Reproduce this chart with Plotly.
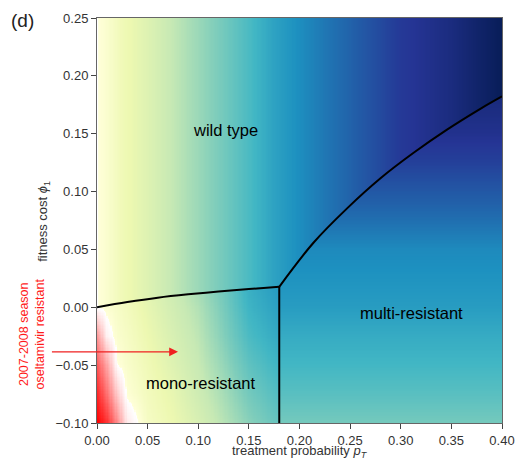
import numpy as np
import plotly.graph_objects as go

# ---- data ----
# colour value in the wild-type region (depends on treatment probability only)
wt_pT = [0, 0.01, 0.025, 0.05, 0.075, 0.1, 0.125, 0.15, 0.175, 0.2, 0.225, 0.25, 0.275, 0.3, 0.325, 0.35, 0.375, 0.4]
wt_z = [0.0, 0.04, 0.11, 0.18, 0.26, 0.33, 0.40, 0.48, 0.57, 0.635, 0.69, 0.74, 0.80, 0.86, 0.89, 0.92, 0.96, 1.0]

# colour value in the multi-resistant region (depends on fitness cost only)
mu_phi = [-0.1, -0.075, -0.05, -0.025, 0.0, 0.025, 0.05, 0.075, 0.1, 0.125, 0.15, 0.175, 0.2]
mu_z = [0.40, 0.455, 0.50, 0.54, 0.59, 0.62, 0.645, 0.71, 0.77, 0.84, 0.89, 0.92, 0.95]

# colour value in the mono-resistant region (negative = red)
mono_pT = [0, 0.01, 0.02, 0.03, 0.05, 0.075, 0.1, 0.125, 0.15, 0.18]
mono_phi = [-0.1, -0.075, -0.05, -0.025, 0.0, 0.02]
mono_z = [
    [-1.0, -0.80, -0.45, -0.08, 0.07, 0.13, 0.20, 0.28, 0.36, 0.43],
    [-0.85, -0.55, -0.20, 0.02, 0.09, 0.15, 0.23, 0.31, 0.40, 0.47],
    [-0.65, -0.35, 0.00, 0.05, 0.11, 0.18, 0.25, 0.34, 0.44, 0.51],
    [-0.40, -0.05, 0.04, 0.07, 0.13, 0.20, 0.27, 0.37, 0.48, 0.55],
    [0.0, 0.03, 0.06, 0.09, 0.15, 0.22, 0.29, 0.39, 0.51, 0.58],
    [0.0, 0.04, 0.07, 0.10, 0.17, 0.24, 0.32, 0.41, 0.53, 0.60],
]

# boundary between wild type and mono-resistant
low_pT = [0, 0.03, 0.06, 0.09, 0.12, 0.15, 0.18]
low_phi = [0, 0.0045, 0.0083, 0.0112, 0.0136, 0.0157, 0.0177]
# boundary between wild type and multi-resistant
up_pT = [0.18, 0.214, 0.247, 0.28, 0.3127, 0.3457, 0.3786, 0.40]
up_phi = [0.0177, 0.056, 0.0855, 0.1115, 0.1335, 0.1535, 0.1715, 0.1822]
# vertical boundary between mono- and multi-resistant
vert_pT = [0.18, 0.18]
vert_phi = [-0.1, 0.0177]

# arrow for the 2007-2008 season
arrow_phi = -0.0385
arrow_from_pT = -0.046
arrow_to_pT = 0.08

# ---- build the background image ----
xf = np.linspace(0, 0.4, 321)
yf = np.linspace(-0.1, 0.25, 281)
X, Y = np.meshgrid(xf, yf)

z_wild = np.interp(X, wt_pT, wt_z)
z_multi = np.interp(Y, mu_phi, mu_z)
rows = np.array([np.interp(xf, mono_pT, r) for r in mono_z])
z_mono = np.empty_like(X)
for j in range(len(xf)):
    z_mono[:, j] = np.interp(yf, mono_phi, rows[:, j])

low_line = np.interp(X, low_pT, low_phi)
up_line = np.interp(X, up_pT, up_phi)
Z = z_wild.copy()
mono_mask = (X < 0.18) & (Y < low_line)
multi_mask = (X >= 0.18) & (Y < up_line)
Z[mono_mask] = z_mono[mono_mask]
Z[multi_mask] = z_multi[multi_mask]
Z = np.round(Z, 3)

ylgnbu = ['#ffffd9', '#edf8b1', '#c7e9b4', '#7fcdbb', '#41b6c4', '#1d91c0', '#225ea8', '#253494', '#081d58']
cscale = [[0.0, '#ff0000'], [0.5, '#ffffff']]
for i, c in enumerate(ylgnbu):
    cscale.append([0.503 + 0.497 * i / 8, c])

fig = go.Figure()
fig.add_trace(go.Heatmap(x=xf, y=yf, z=Z, colorscale=cscale, zmin=-1, zmax=1,
                         showscale=False, hoverinfo='skip'))

line_style = dict(color='black', width=2)
fig.add_trace(go.Scatter(x=low_pT, y=low_phi, mode='lines', line=dict(shape='spline', **line_style), showlegend=False))
fig.add_trace(go.Scatter(x=up_pT, y=up_phi, mode='lines', line=dict(shape='spline', **line_style), showlegend=False))
fig.add_trace(go.Scatter(x=vert_pT, y=vert_phi, mode='lines', line=line_style, showlegend=False))

sans = "Liberation Sans, Arial, sans-serif"
label_font = dict(family=sans, size=16.5, color='black')
fig.add_annotation(x=0.127, y=0.153, text="wild type", showarrow=False, font=label_font)
fig.add_annotation(x=0.3105, y=-0.005, text="multi-resistant", showarrow=False, font=label_font)
fig.add_annotation(x=0.103, y=-0.065, text="mono-resistant", showarrow=False, font=label_font)

fig.add_annotation(x=arrow_to_pT, y=arrow_phi, ax=arrow_from_pT, ay=arrow_phi, axref='x', ayref='y',
                   xref='x', yref='y', showarrow=True, arrowhead=2, arrowsize=1.6, arrowwidth=1.1,
                   arrowcolor='#f02020', text="")

fig.add_annotation(xref='paper', yref='paper', x=-0.16, y=0.219, xanchor='center', yanchor='middle',
                   text="2007-2008 season<br>oseltamivir resistant", textangle=-90, showarrow=False,
                   font=dict(family=sans, size=12.5, color='#ff1a1a'), align='center')

fig.add_annotation(xref='paper', yref='paper', x=-0.185, y=0.993, xanchor='center', yanchor='middle',
                   text="(d)", showarrow=False, font=dict(family=sans, size=19, color='#222'))

# axis titles
title_font = dict(family=sans, size=13, color='#333')
fig.add_annotation(xref='paper', yref='paper', x=0.5, y=-0.094, xanchor='center', yanchor='bottom',
                   borderpad=0, text="treatment probability <i>p</i><sub><i>T</i></sub>", showarrow=False,
                   font=title_font)
fig.add_annotation(xref='paper', yref='paper', x=-0.131, y=0.499, xanchor='center', yanchor='middle',
                   text="fitness cost <i>ϕ</i><sub>1</sub>", textangle=-90, showarrow=False, font=title_font)

axis_common = dict(showgrid=False, zeroline=False, ticks='outside', ticklen=5, tickcolor='#444',
                   showline=True, linecolor='#666', linewidth=1, mirror=True, automargin=False,
                   tickfont=dict(family=sans, size=13, color='#333'))
fig.update_xaxes(range=[0, 0.4], tickvals=[0, 0.05, 0.1, 0.15, 0.2, 0.25, 0.3, 0.35, 0.4], tickformat='.2f',
                 **axis_common)
fig.update_yaxes(range=[-0.1, 0.25], tickvals=[-0.1, -0.05, 0, 0.05, 0.1, 0.15, 0.2, 0.25], tickformat='.2f',
                 **axis_common)
fig.update_layout(width=516, height=461, margin=dict(l=97, r=14, t=18, b=38),
                  plot_bgcolor='white', paper_bgcolor='white')
fig.write_html("out.html")
